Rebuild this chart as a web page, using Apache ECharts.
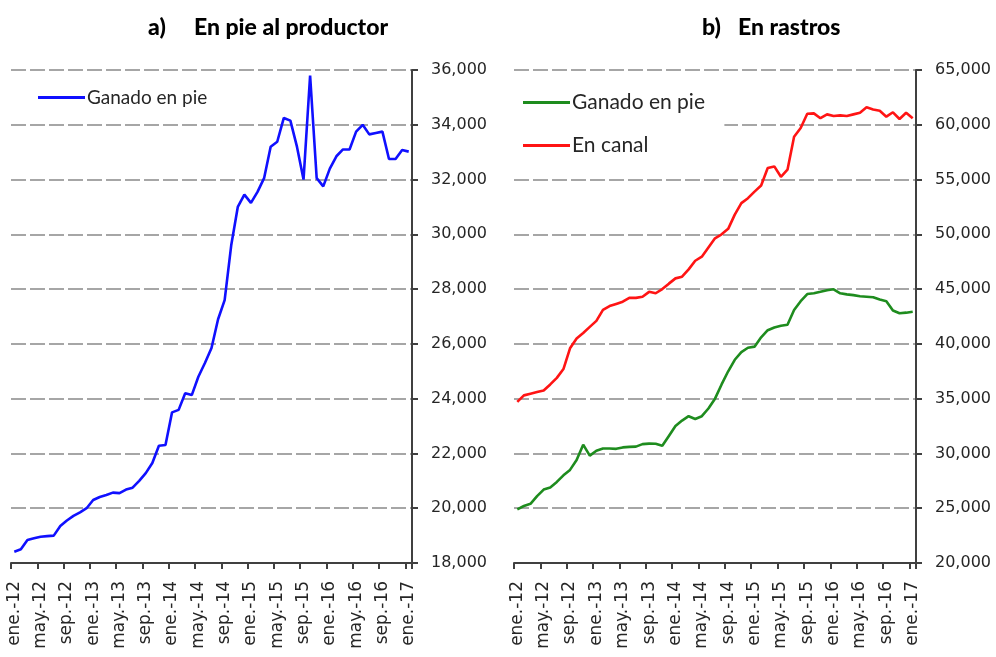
<!DOCTYPE html>
<html>
<head>
<meta charset="utf-8">
<script src="https://cdn.jsdelivr.net/npm/echarts@6/dist/echarts.min.js"></script>
<style>html,body{margin:0;padding:0;background:#fff;}#c{width:996px;height:657px;}</style>
</head>
<body>
<div id="c"></div>
<script>
const meses = ['ene.','feb.','mar.','abr.','may.','jun.','jul.','ago.','sep.','oct.','nov.','dic.'];
const anios = ['12','13','14','15','16','17'];
const categorias = [];
anios.forEach(a => meses.forEach(m => { if (categorias.length < 61) categorias.push(m + '-' + a); }));

const pieProductor = [18410,18500,18840,18900,18960,18980,19000,19350,19550,19720,19850,20000,
  20300,20410,20480,20570,20550,20680,20750,21000,21280,21650,22280,22310,
  23500,23590,24200,24130,24800,25300,25850,26900,27600,29600,31000,31450,
  31150,31550,32050,33200,33380,34250,34150,33200,32000,35800,32050,31750,
  32400,32850,33100,33100,33750,34000,33650,33700,33750,32750,32750,33080,33020];

const rastroPie = [24900,25200,25400,26100,26700,26900,27400,28000,28500,29400,30800,29800,
  30250,30450,30450,30420,30550,30600,30620,30850,30900,30880,30700,31600,
  32500,33000,33400,33150,33400,34100,35000,36300,37500,38550,39250,39650,
  39750,40600,41250,41500,41650,41750,43100,43900,44550,44620,44750,44900,
  44980,44620,44520,44450,44350,44300,44250,44050,43900,43050,42800,42850,42940];

const rastroCanal = [34700,35300,35450,35600,35750,36300,36900,37700,39600,40500,41000,41550,
  42100,43100,43450,43650,43850,44200,44200,44300,44750,44620,45000,45500,
  45980,46130,46800,47590,47960,48800,49640,50000,50500,51800,52850,53300,
  53900,54450,56050,56200,55250,55900,58900,59700,61000,61040,60600,60950,
  60800,60860,60800,60950,61100,61600,61400,61280,60740,61140,60530,61100,60590];

const ejeA = {min: 18000, max: 36000, interval: 2000};
const ejeB = {min: 20000, max: 65000, interval: 5000};

const fmt = v => String(v).replace(/\B(?=(\d{3})+(?!\d))/g, ',');
const axisCol = '#404040';
const txtCol = '#262626';

function xAxis(gi) {
  return {
    type: 'category', gridIndex: gi, data: categorias, boundaryGap: true,
    axisLine: {show: true, lineStyle: {color: axisCol, width: 2}},
    axisTick: {show: true, interval: 3, length: 6, lineStyle: {color: axisCol, width: 2}},
    axisLabel: {interval: 3, rotate: 90, margin: 18, color: txtCol,
      fontFamily: 'DejaVu Sans', fontSize: 17},
    splitLine: {show: false}
  };
}
function yAxis(gi, e) {
  return {
    type: 'value', gridIndex: gi, position: 'right', min: e.min, max: e.max, interval: e.interval,
    axisLine: {show: true, lineStyle: {color: axisCol, width: 2}},
    axisTick: {show: true, length: 6, lineStyle: {color: axisCol, width: 2}},
    axisLabel: {margin: 19, color: txtCol, fontFamily: 'DejaVu Sans', fontSize: 16, formatter: fmt},
    splitLine: {show: true, lineStyle: {color: '#a6a6a6', width: 2, type: [15, 4]}}
  };
}
const chart = echarts.init(document.getElementById('c'), null, {renderer: 'canvas'});
chart.setOption({
  animation: false,
  backgroundColor: '#ffffff',
  title: [
    {text: 'a)', left: 148, top: 16, padding: 0, textStyle: {fontFamily: 'Lato', fontWeight: 900, fontSize: 23, color: '#000'}},
    {text: 'En pie al productor', left: 194, top: 16, padding: 0, textStyle: {fontFamily: 'Lato', fontWeight: 900, fontSize: 23, color: '#000'}},
    {text: 'b)', left: 702, top: 16, padding: 0, textStyle: {fontFamily: 'Lato', fontWeight: 900, fontSize: 23, color: '#000'}},
    {text: 'En rastros', left: 738, top: 16, padding: 0, textStyle: {fontFamily: 'Lato', fontWeight: 900, fontSize: 23, color: '#000'}}
  ],
  legend: [
    {data: [{name: 'Ganado en pie', icon: 'rect'}], left: 38, top: 88, padding: 0, orient: 'vertical',
      itemWidth: 47, itemHeight: 3, itemGap: 5,
      textStyle: {fontFamily: 'Lato', fontSize: 19, color: txtCol, padding: [0,0,0,-3]}},
    {data: [{name: 'Ganado en pie ', icon: 'rect'}, {name: 'En canal', icon: 'rect'}], left: 513, top: 84, orient: 'vertical',
      padding: [8, 14, 8, 10], backgroundColor: '#ffffff',
      itemWidth: 47, itemHeight: 3, itemGap: 22,
      textStyle: {fontFamily: 'Lato', fontSize: 21, color: txtCol, padding: [0,0,0,-3]}}
  ],
  grid: [
    {left: 11, right: 584, top: 70, bottom: 94, containLabel: false},
    {left: 514, right: 80, top: 70, bottom: 94, containLabel: false}
  ],
  xAxis: [xAxis(0), xAxis(1)],
  yAxis: [yAxis(0, ejeA), yAxis(1, ejeB)],
  series: [
    {name: 'Ganado en pie', type: 'line', xAxisIndex: 0, yAxisIndex: 0, data: pieProductor,
      symbol: 'none', lineStyle: {color: '#1010ff', width: 2.6}, itemStyle: {color: '#1010ff'}},
    {name: 'Ganado en pie ', type: 'line', xAxisIndex: 1, yAxisIndex: 1, data: rastroPie,
      symbol: 'none', lineStyle: {color: '#1e8c1e', width: 2.6}, itemStyle: {color: '#1e8c1e'}},
    {name: 'En canal', type: 'line', xAxisIndex: 1, yAxisIndex: 1, data: rastroCanal,
      symbol: 'none', lineStyle: {color: '#ff1414', width: 2.6}, itemStyle: {color: '#ff1414'}}
  ]
});
</script>
</body>
</html>
